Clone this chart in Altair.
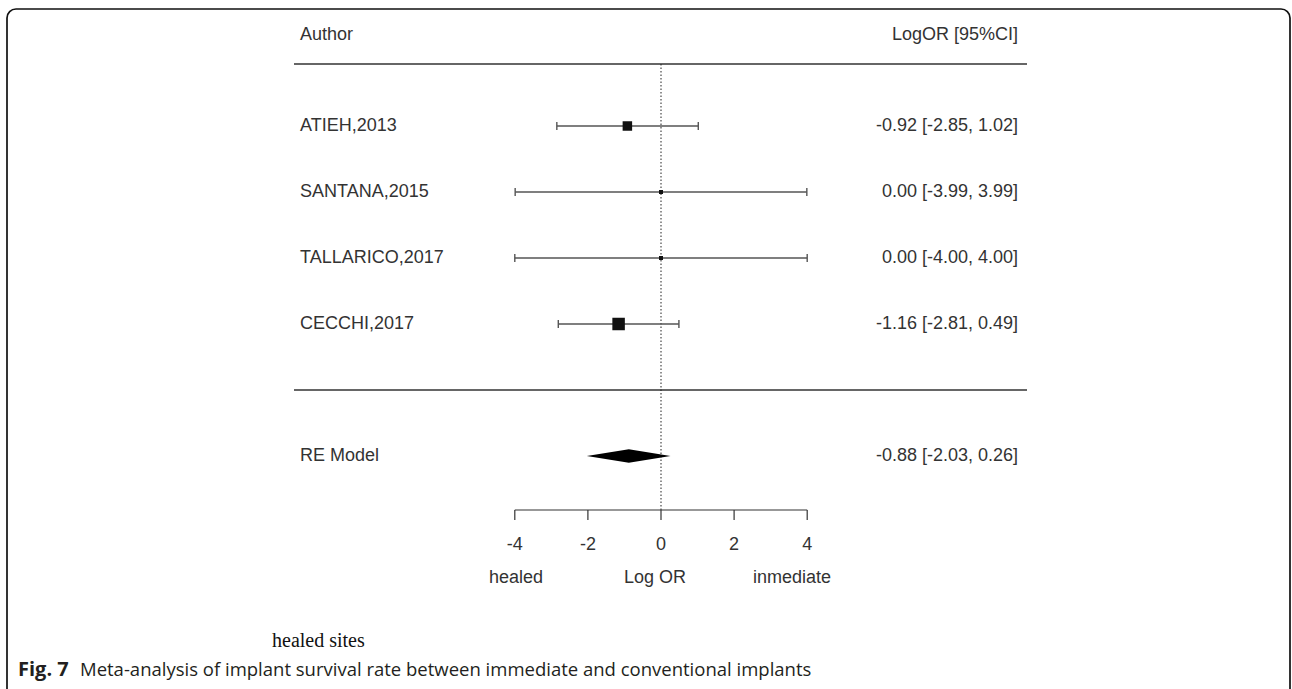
import altair as alt
import pandas as pd

# ---- data ----
authors = ["ATIEH,2013", "SANTANA,2015", "TALLARICO,2017", "CECCHI,2017"]
estimates = [-0.92, 0.00, 0.00, -1.16]
lowers = [-2.85, -3.99, -4.00, -2.81]
uppers = [1.02, 3.99, 4.00, 0.49]
rows = [4, 3, 2, 1]
box_sides = [9.5, 4.0, 4.0, 12.5]  # marker side (px), proportional to weight

re_label = "RE Model"
re_est = -0.88
re_lower = -2.03
re_upper = 0.26
re_row = -1

tick_values = [-4, -2, 0, 2, 4]
tick_labels = ["-4", "-2", "0", "2", "4"]

header_left = "Author"
header_right = "LogOR  [95%CI]"
xlab_left = "healed"
xlab_mid = "Log OR"
xlab_right = "inmediate"
note_text = "healed sites"
caption_bold = "Fig. 7"
caption_text = "Meta-analysis of implant survival rate between immediate and conventional implants"

# ---- layout ----
W, H = 1292, 689
ZERO_PX, PX_PER_UNIT = 661.0, 36.55
ROW0_PX, PX_PER_ROW = 390.0, 66.0
xs = alt.Scale(domain=[-ZERO_PX / PX_PER_UNIT, (W - ZERO_PX) / PX_PER_UNIT], nice=False, zero=False)
ys = alt.Scale(domain=[(ROW0_PX - H) / PX_PER_ROW, ROW0_PX / PX_PER_ROW], nice=False, zero=False)

FONT = "Liberation Sans"
TXT = "#333333"
FS = 18
LEFT_X = 300
RIGHT_X = 1018
LINE_X1, LINE_X2 = 294, 1027
TOP_Y, SEP_Y, AXIS_Y = 64, 390, 510

studies = pd.DataFrame({
    "author": authors, "est": estimates, "lo": lowers, "hi": uppers,
    "row": rows, "side": box_sides,
})
studies["area"] = studies["side"] ** 2
studies["ci"] = [f"{e:.2f} [{l:.2f}, {u:.2f}]" for e, l, u in zip(estimates, lowers, uppers)]

re_df = pd.DataFrame({"label": [re_label], "row": [re_row],
                      "ci": [f"{re_est:.2f} [{re_lower:.2f}, {re_upper:.2f}]"]})
HALF = 6.7 / PX_PER_ROW
diamond = pd.DataFrame({
    "x": [re_lower, re_est, re_upper],
    "y": [re_row, re_row - HALF, re_row],
    "y2": [re_row, re_row + HALF, re_row],
})
ticks = pd.DataFrame({"v": tick_values, "lab": tick_labels})
one = pd.DataFrame({"a": [0]})

base = alt.Chart(studies)

border = alt.Chart(one).mark_rect(fillOpacity=0, stroke="#111111", strokeWidth=1.7, cornerRadius=9).encode(
    x=alt.value(7), x2=alt.value(1290), y=alt.value(9), y2=alt.value(H + 30))

hdr_l = alt.Chart(one).mark_text(align="left", baseline="middle", font=FONT, fontSize=FS, color=TXT, text=header_left).encode(
    x=alt.value(LEFT_X), y=alt.value(35))
hdr_r = alt.Chart(one).mark_text(align="right", baseline="middle", font=FONT, fontSize=FS, color=TXT, text=header_right).encode(
    x=alt.value(RIGHT_X), y=alt.value(35))

top_line = alt.Chart(one).mark_rule(color="#666666", strokeWidth=1.8).encode(
    x=alt.value(LINE_X1), x2=alt.value(LINE_X2), y=alt.value(TOP_Y))
sep_line = alt.Chart(one).mark_rule(color="#666666", strokeWidth=1.8).encode(
    x=alt.value(LINE_X1), x2=alt.value(LINE_X2), y=alt.value(SEP_Y))

zero_line = alt.Chart(one).transform_calculate(z="0").mark_rule(color="#222222", strokeWidth=1, strokeDash=[1.5, 2]).encode(
    x=alt.X("z:Q", scale=xs, axis=None), y=alt.value(TOP_Y), y2=alt.value(AXIS_Y))

ci = base.mark_rule(color="#555555", strokeWidth=1.4).encode(
    x=alt.X("lo:Q", scale=xs, axis=None), x2="hi:Q", y=alt.Y("row:Q", scale=ys, axis=None))
cap_lo = base.mark_rule(color="#555555", strokeWidth=1.4, yOffset=-4, y2Offset=4).encode(
    x=alt.X("lo:Q", scale=xs, axis=None), y=alt.Y("row:Q", scale=ys, axis=None), y2="row:Q")
cap_hi = base.mark_rule(color="#555555", strokeWidth=1.4, yOffset=-4, y2Offset=4).encode(
    x=alt.X("hi:Q", scale=xs, axis=None), y=alt.Y("row:Q", scale=ys, axis=None), y2="row:Q")
boxes = base.mark_square(color="#111111", opacity=1, filled=True).encode(
    x=alt.X("est:Q", scale=xs, axis=None), y=alt.Y("row:Q", scale=ys, axis=None),
    size=alt.Size("area:Q", scale=None, legend=None))

lab = base.mark_text(align="left", baseline="middle", font=FONT, fontSize=FS, color=TXT).encode(
    x=alt.value(LEFT_X), y=alt.Y("row:Q", scale=ys, axis=None), text="author:N")
ci_txt = base.mark_text(align="right", baseline="middle", font=FONT, fontSize=FS, color=TXT).encode(
    x=alt.value(RIGHT_X), y=alt.Y("row:Q", scale=ys, axis=None), text="ci:N")

dia = alt.Chart(diamond).mark_area(color="#000000", orient="vertical").encode(
    x=alt.X("x:Q", scale=xs, axis=None), y=alt.Y("y:Q", scale=ys, axis=None), y2="y2:Q")
re_lab = alt.Chart(re_df).mark_text(align="left", baseline="middle", font=FONT, fontSize=FS, color=TXT).encode(
    x=alt.value(LEFT_X), y=alt.Y("row:Q", scale=ys, axis=None), text="label:N")
re_ci = alt.Chart(re_df).mark_text(align="right", baseline="middle", font=FONT, fontSize=FS, color=TXT).encode(
    x=alt.value(RIGHT_X), y=alt.Y("row:Q", scale=ys, axis=None), text="ci:N")

axis_line = alt.Chart(ticks).mark_rule(color="#333333", strokeWidth=1.2).encode(
    x=alt.X("min(v):Q", scale=xs, axis=None), x2="max(v):Q", y=alt.value(AXIS_Y))
axis_ticks = alt.Chart(ticks).mark_rule(color="#333333", strokeWidth=1.2).encode(
    x=alt.X("v:Q", scale=xs, axis=None), y=alt.value(AXIS_Y), y2=alt.value(AXIS_Y + 10))
axis_labs = alt.Chart(ticks).mark_text(baseline="middle", font=FONT, fontSize=FS, color=TXT).encode(
    x=alt.X("v:Q", scale=xs, axis=None), y=alt.value(545), text="lab:N")

xl1 = alt.Chart(one).mark_text(baseline="middle", font=FONT, fontSize=FS, color=TXT, text=xlab_left).encode(
    x=alt.value(516), y=alt.value(578))
xl2 = alt.Chart(one).mark_text(baseline="middle", font=FONT, fontSize=FS, color=TXT, text=xlab_mid).encode(
    x=alt.value(655), y=alt.value(578))
xl3 = alt.Chart(one).mark_text(baseline="middle", font=FONT, fontSize=FS, color=TXT, text=xlab_right).encode(
    x=alt.value(792), y=alt.value(578))

note = alt.Chart(one).mark_text(align="left", baseline="middle", font="Liberation Serif", fontSize=20, color="#111111", text=note_text).encode(
    x=alt.value(272), y=alt.value(641))
cap1 = alt.Chart(one).mark_text(align="left", baseline="middle", font="Open Sans", fontWeight="bold", fontSize=20, color="#231f20", text=caption_bold).encode(
    x=alt.value(18), y=alt.value(670))
cap2 = alt.Chart(one).mark_text(align="left", baseline="middle", font="Open Sans", fontSize=18.5, color="#231f20", text=caption_text).encode(
    x=alt.value(80), y=alt.value(670))

chart = alt.layer(
    border, hdr_l, hdr_r, top_line, sep_line, zero_line, ci, cap_lo, cap_hi, boxes,
    lab, ci_txt, dia, re_lab, re_ci, axis_line, axis_ticks, axis_labs, xl1, xl2, xl3,
    note, cap1, cap2,
).properties(
    width=W, height=H, padding=0, autosize=alt.AutoSizeParams(type="none"), background="white"
).configure_view(stroke=None)

chart.save("out.html", embed_options={"renderer": "svg", "actions": False})
